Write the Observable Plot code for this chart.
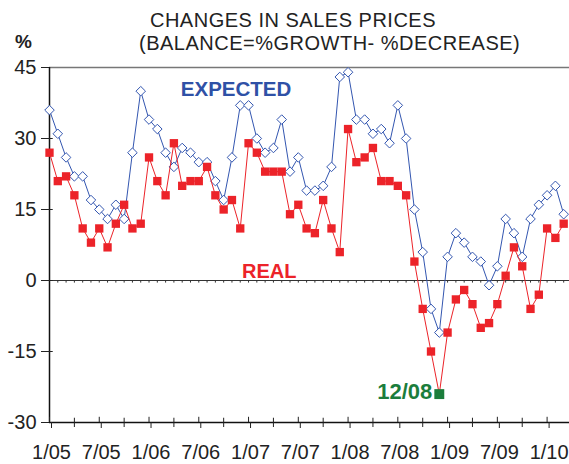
<!DOCTYPE html>
<html><head><meta charset="utf-8">
<script src="https://cdn.jsdelivr.net/npm/d3@7"></script>
<script src="https://cdn.jsdelivr.net/npm/@observablehq/plot@0.6"></script>
<style>
html,body{margin:0;padding:0;background:#fff;}
#wrap{position:relative;width:569px;height:464px;font-family:"Liberation Sans",Arial,sans-serif;color:#222;}
#wrap svg{position:absolute;left:0;top:0;}
.t{position:absolute;white-space:nowrap;line-height:20px;font-size:20px;letter-spacing:0.5px;}
</style></head><body>
<div id="wrap">
<div class="t" style="left:0;width:586px;text-align:center;top:10px;">CHANGES IN SALES PRICES</div>
<div class="t" style="left:139px;top:32.6px;">(BALANCE=%GROWTH- %DECREASE)</div>
<div class="t" style="left:15px;top:32px;font-weight:bold;font-size:19px;letter-spacing:0;">%</div>
</div>
<script>
// Monthly balance (%), 1/05 .. 3/10
const expected = [36,31,26,22,22,17,15,13,16,13,27,40,34,32,27,24,28,27,25,25,21,17,26,37,37,30,27,28,34,23,26,19,19,20,24,43,44,34,34,31,32,29,37,30,15,6,-6,-11,5,10,8,5,4,-1,3,13,10,5,13,16,18,20,14];
const real = [27,21,22,18,11,8,11,7,12,16,11,12,26,21,18,29,20,21,21,24,18,15,17,11,29,27,23,23,23,14,16,11,10,17,11,6,32,25,26,28,21,21,20,18,4,-6,-15,-24,-11,-4,-2,-5,-10,-9,-5,1,7,3,-6,-3,11,9,12];
const tickLabels = ["1/05","7/05","1/06","7/06","1/07","7/07","1/08","7/08","1/09","7/09","1/10"];
const yTicks = [-30,-15,0,15,30,45];
const lowIndex = 47; // 12/08
const lowLabel = "12/08";

const majorIdx = tickLabels.map((d,i)=>i*6);
const minorIdx = majorIdx.map(d=>d+3).filter(d=>d<real.length);
const monthIdx = real.map((d,i)=>i);

const blue = "#3356b0", red = "#ec2329", green = "#1b7d3c";
const xi = (d,i)=>i;

const chart = Plot.plot({
  width: 569, height: 464,
  marginTop: 67, marginBottom: 42, marginLeft: 49, marginRight: 0,
  x: {type: "linear", domain: [0, 62.7]},
  y: {domain: [-30, 45]},
  style: {fontFamily: "Liberation Sans, Arial, sans-serif", fontSize: "20px", color: "#222", background: "transparent", overflow: "visible"},
  marks: [
    Plot.ruleY([45], {stroke: "#777", strokeWidth: 1.5}),
    Plot.ruleY([0], {stroke: "#333", strokeWidth: 1.2}),
    Plot.ruleX(monthIdx, {x: d=>d, y1: 0, y2: -0.55, stroke: "#333"}),
    Plot.ruleY([-30], {stroke: "#111", strokeWidth: 1.5}),
    Plot.ruleX([0], {y1: -30, y2: 45, stroke: "#111", strokeWidth: 1.5}),
    Plot.axisY({ticks: yTicks, tickSize: 8, tickPadding: 5, fontSize: 20, tickFormat: d=>String(d)}),
    Plot.ruleY(yTicks.filter(v=>v>-30 && v<45), {x1: 0, x2: 0.45, stroke: "#222"}),
    Plot.axisX({ticks: majorIdx, tickSize: 6, tickPadding: 16, dx: 2, fontSize: 20, tickFormat: d=>tickLabels[majorIdx.indexOf(d)]}),
    Plot.axisX({ticks: minorIdx, tickSize: 5, tickFormat: ()=>""}),
    Plot.ruleX(majorIdx, {x: d=>d, y1: -30, y2: -28.9, stroke: "#222"}),
    Plot.ruleX(minorIdx, {x: d=>d, y1: -30, y2: -29.1, stroke: "#222"}),
    Plot.line(expected, {x: xi, y: d=>d, stroke: blue, strokeWidth: 1}),
    Plot.dot(expected, {x: xi, y: d=>d, symbol: "diamond2", r: 4.3, fill: "white", stroke: blue, strokeWidth: 1}),
    Plot.line(real, {x: xi, y: d=>d, stroke: red, strokeWidth: 1}),
    Plot.dot(real, {x: xi, y: d=>d, symbol: "square", r: 4.7, fill: red, stroke: "none"}),
    Plot.dot([real[lowIndex]], {x: ()=>lowIndex, y: d=>d, symbol: "square", r: 5.6, fill: green, stroke: "none"}),
    Plot.text([lowLabel], {x: ()=>lowIndex, y: ()=>real[lowIndex], text: d=>d, textAnchor: "end", dx: -7, dy: -2, fill: green, fontWeight: "bold", fontSize: 22}),
    Plot.text(["EXPECTED"], {x: ()=>22.5, y: ()=>40.4, text: d=>d, fill: "#2f51a6", fontWeight: "bold", fontSize: 20.5}),
    Plot.text(["REAL"], {x: ()=>26.5, y: ()=>1.9, text: d=>d, fill: red, fontWeight: "bold", fontSize: 20})
  ]
});
document.getElementById("wrap").prepend(chart);
</script>
</body></html>
